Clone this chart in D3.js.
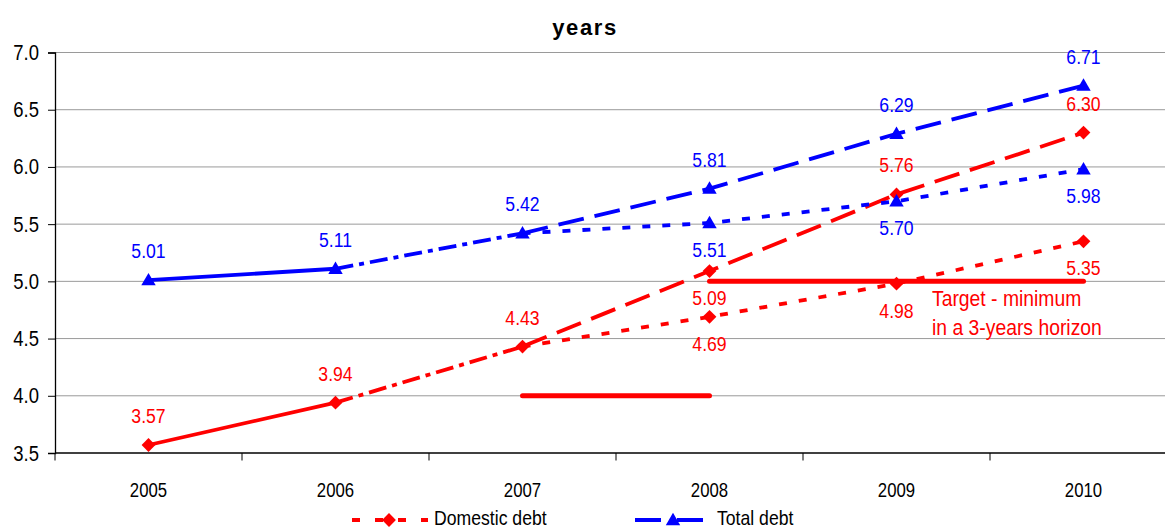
<!DOCTYPE html>
<html>
<head>
<meta charset="utf-8">
<script src="https://cdn.jsdelivr.net/npm/d3@7"></script>
<style>
  html, body { margin: 0; padding: 0; background: #fff; }
  svg { display: block; font-family: "Liberation Sans", Arial, sans-serif; }
</style>
</head>
<body>
<svg id="chart" width="1165" height="529"></svg>
<script>
// Average maturity of government debt, years
const years = ["2005", "2006", "2007", "2008", "2009", "2010"];
const yTicks = [3.5, 4.0, 4.5, 5.0, 5.5, 6.0, 6.5, 7.0];

// Domestic debt: actuals 2005-2007, then a high and a low path to 2010
const domesticActual = [3.57, 3.94, 4.43];
const domesticHigh = [4.43, 5.09, 5.76, 6.30];   // 2007-2010
const domesticLow = [4.43, 4.69, 4.98, 5.35];    // 2007-2010

// Total debt: actuals 2005-2007, then a high and a low path to 2010
const totalActual = [5.01, 5.11, 5.42];
const totalHigh = [5.42, 5.81, 6.29, 6.71];      // 2007-2010
const totalLow = [5.42, 5.51, 5.70, 5.98];       // 2007-2010

// Target - minimum average maturity
const targetLevels = [4.0, 5.0];
const targetSpans = [["2007", "2008"], ["2008", "2010"]];
const targetText = ["Target - minimum", "in a 3-years horizon"];

const RED = "#ff0000", BLUE = "#0000ff";
const SX = 0.86; // narrow glyph width used throughout the chart

const svg = d3.select("#chart");
const plotLeft = 55, plotTop = 52.5, plotBottom = 453;

const x = d3.scaleBand().domain(years).range([plotLeft, plotLeft + 6 * 187]).padding(0);
const cx = yr => x(yr) + x.bandwidth() / 2;
const y = d3.scaleLinear().domain([3.5, 7.0]).range([plotBottom, plotTop]);

function label(parent, px, py, str, opts) {
  const g = parent.append("g").attr("transform", `translate(${px},${py}) scale(${opts.sx || SX},1)`);
  const t = g.append("text")
    .attr("text-anchor", opts.anchor || "middle")
    .attr("font-size", opts.size || 19)
    .attr("fill", opts.fill || "#000")
    .text(str);
  if (opts.weight) t.attr("font-weight", opts.weight);
  if (opts.spacing) t.attr("letter-spacing", opts.spacing);
  return t;
}

// Gridlines
svg.append("g").selectAll("line").data(yTicks.slice(1)).join("line")
  .attr("x1", plotLeft).attr("x2", 1165)
  .attr("y1", d => y(d)).attr("y2", d => y(d))
  .attr("stroke", "#9a9a9a").attr("stroke-width", 1);

// Y axis
const yAxis = svg.append("g").attr("transform", `translate(${plotLeft},0)`)
  .call(d3.axisLeft(y).tickValues(yTicks).tickSize(7).tickFormat(""));
yAxis.select(".domain").attr("stroke", "#000").attr("stroke-width", 1.3);
yAxis.selectAll(".tick line").attr("stroke", "#000").attr("stroke-width", 1);
yTicks.forEach(v => label(svg, 39, y(v) + 7.5, d3.format(".1f")(v), { anchor: "end", size: 21.5 }));

// X axis: ticks on band boundaries, labels at band centres
svg.append("line").attr("x1", plotLeft).attr("x2", 1165).attr("y1", plotBottom).attr("y2", plotBottom)
  .attr("stroke", "#000").attr("stroke-width", 1.3);
svg.append("g").selectAll("line").data(years).join("line")
  .attr("x1", d => x(d)).attr("x2", d => x(d))
  .attr("y1", plotBottom).attr("y2", plotBottom + 7.5)
  .attr("stroke", "#000").attr("stroke-width", 1);
years.forEach(yr => label(svg, cx(yr), 497, yr, { size: 19.5 }));

// Title
label(svg, 585, 35, "years", { size: 22, weight: "bold", spacing: 1.6, sx: 1 });

// Target lines
targetLevels.forEach((lv, i) => {
  svg.append("line")
    .attr("x1", cx(targetSpans[i][0])).attr("x2", cx(targetSpans[i][1]))
    .attr("y1", y(lv)).attr("y2", y(lv))
    .attr("stroke", RED).attr("stroke-width", 5).attr("stroke-linecap", "round");
});
targetText.forEach((s, i) => label(svg, 932, 306 + i * 29, s, { anchor: "start", size: 22.5, fill: RED }));

const line = d3.line().x(d => cx(d.yr)).y(d => y(d.v));
const pts = (vals, yrs) => vals.map((v, i) => ({ yr: yrs[i], v }));
const DASH = { solid: null, dashdot: "18,6,5,6", long: "26,11", short: "8,12" };

function series(actual, high, low, color) {
  const g = svg.append("g");
  const segs = [
    [pts(actual.slice(0, 2), years.slice(0, 2)), DASH.solid],
    [pts(actual.slice(1, 3), years.slice(1, 3)), DASH.dashdot],
    [pts(high, years.slice(2)), DASH.long],
    [pts(low, years.slice(2)), DASH.short]
  ];
  segs.forEach(([d, dash]) => {
    const p = g.append("path").attr("d", line(d)).attr("fill", "none")
      .attr("stroke", color).attr("stroke-width", 3.8);
    if (dash) p.attr("stroke-dasharray", dash);
  });
  return g;
}

function diamond(g, px, py, color) {
  g.append("path").attr("d", d3.symbol(d3.symbolSquare, 95)()).attr("fill", color)
    .attr("transform", `translate(${px},${py}) rotate(45)`);
}
function triangle(g, px, py, color) {
  g.append("path").attr("d", d3.symbol(d3.symbolTriangle, 90)()).attr("fill", color)
    .attr("transform", `translate(${px},${py + 1})`);
}

const dom = series(domesticActual, domesticHigh, domesticLow, RED);
const tot = series(totalActual, totalHigh, totalLow, BLUE);

// Markers and value labels: pos = above (-1) or below (+1) the point
function marks(g, actual, high, low, color, marker, lowPos, highPos) {
  const all = [
    ...actual.map((v, i) => ({ yr: years[i], v, pos: -1 })),
    ...high.slice(1).map((v, i) => ({ yr: years[i + 3], v, pos: highPos[i] })),
    ...low.slice(1).map((v, i) => ({ yr: years[i + 3], v, pos: lowPos[i] }))
  ];
  all.forEach(d => marker(g, cx(d.yr), y(d.v), color));
  all.forEach(d => label(g, cx(d.yr), y(d.v) + (d.pos < 0 ? -22 : 34), d3.format(".2f")(d.v), { size: 20.5, fill: color }));
}
marks(dom, domesticActual, domesticHigh, domesticLow, RED, diamond, [1, 1, 1], [1, -1, -1]);
marks(tot, totalActual, totalHigh, totalLow, BLUE, triangle, [1, 1, 1], [-1, -1, -1]);

// Legend
const lg = svg.append("g");
lg.append("line").attr("x1", 352).attr("x2", 428).attr("y1", 520).attr("y2", 520)
  .attr("stroke", RED).attr("stroke-width", 3.8).attr("stroke-dasharray", "8,15");
diamond(lg, 389, 520, RED);
label(lg, 434, 525, "Domestic debt", { anchor: "start", size: 20.5 });
lg.append("line").attr("x1", 635).attr("x2", 704).attr("y1", 520).attr("y2", 520)
  .attr("stroke", BLUE).attr("stroke-width", 3.8).attr("stroke-dasharray", "26,16");
triangle(lg, 673, 520, BLUE);
label(lg, 717, 525, "Total debt", { anchor: "start", size: 20.5 });
</script>
</body>
</html>
